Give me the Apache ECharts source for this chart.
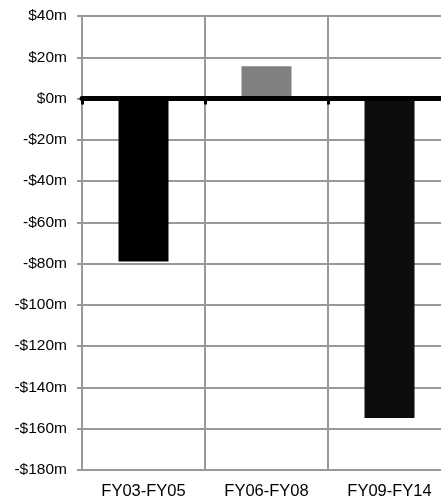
<!DOCTYPE html>
<html>
<head>
<meta charset="utf-8">
<script src="https://cdn.jsdelivr.net/npm/echarts@6/dist/echarts.min.js"></script>
<style>
  html, body { margin: 0; padding: 0; background: #fff; }
  #chart { width: 441px; height: 499px; }
</style>
</head>
<body>
<div id="chart"></div>
<script>
// Net change by period, in $ millions
const periods = ['FY03-FY05', 'FY06-FY08', 'FY09-FY14'];
const netChange = [-79, 15.6, -154.8];
const barColors = ['#000000', '#808080', '#0d0d0d'];

const yMin = -180, yMax = 40, yStep = 20;

const gridGray = '#999999';
const font = '"Liberation Sans", Arial, sans-serif';

function money(v) {
  return (v < 0 ? '-$' + Math.abs(v) : '$' + v) + 'm';
}

const chart = echarts.init(document.getElementById('chart'), null, { renderer: 'canvas' });
chart.setOption({
  animation: false,
  backgroundColor: '#ffffff',
  grid: { left: 82, right: -10, top: 16, bottom: 29, containLabel: false, outerBoundsMode: 'none' },
  xAxis: [
    {
      type: 'category',
      data: periods,
      position: 'bottom',
      axisLine: { onZero: false, lineStyle: { color: gridGray, width: 2 } },
      axisTick: { show: false },
      axisLabel: { color: '#000', fontFamily: font, fontSize: 16.5, margin: 13 },
      splitLine: { show: true, lineStyle: { color: gridGray, width: 2 } }
    },
    {
      type: 'category',
      data: periods,
      position: 'top',
      z: 10,
      axisLine: { onZero: true, lineStyle: { color: '#000', width: 5 } },
      axisTick: { show: true, inside: true, length: 6, lineStyle: { color: '#000', width: 3 } },
      axisLabel: { show: false },
      splitLine: { show: false }
    }
  ],
  yAxis: {
    type: 'value',
    min: yMin,
    max: yMax,
    interval: yStep,
    axisLine: { show: true, lineStyle: { color: gridGray, width: 2 } },
    axisTick: { show: true, length: 5, lineStyle: { color: gridGray, width: 2 } },
    axisLabel: { color: '#000', fontFamily: font, fontSize: 15.5, margin: 15, formatter: money },
    splitLine: { show: true, lineStyle: { color: gridGray, width: 2 } }
  },
  series: [{
    type: 'bar',
    xAxisIndex: 0,
    barWidth: 50,
    data: netChange.map((v, i) => ({ value: v, itemStyle: { color: barColors[i] } }))
  }]
});
</script>
</body>
</html>
